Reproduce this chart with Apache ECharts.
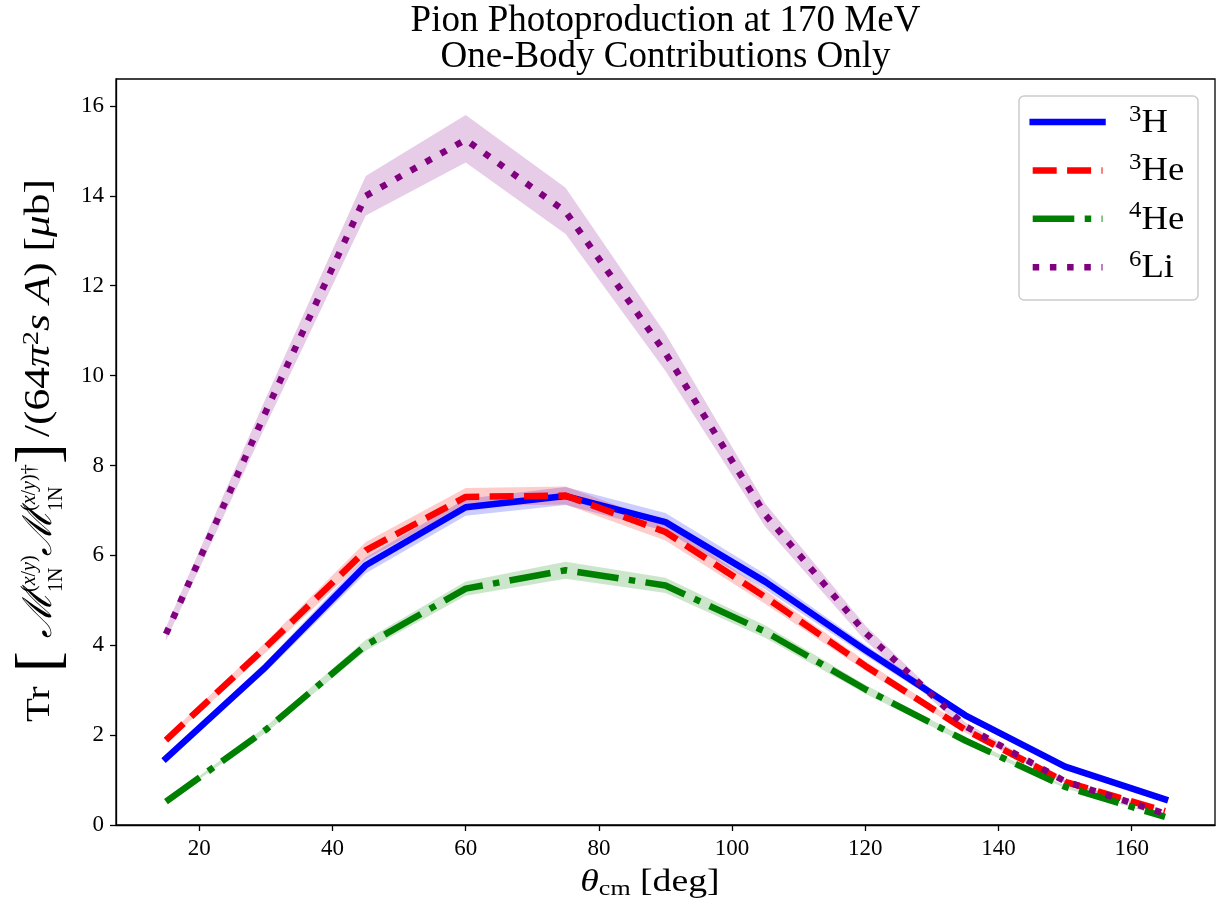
<!DOCTYPE html>
<html><head><meta charset="utf-8">
<script src="https://cdn.jsdelivr.net/npm/echarts@6/dist/echarts.min.js"></script>
<style>html,body{margin:0;padding:0;background:#fff}#c{width:1217px;height:903px}</style>
</head><body><div id="c"></div>
<script>
// ---- data ----
const angles = [15, 30, 45, 60, 75, 90, 105, 120, 135, 150, 165];
const h3    = [1.48, 3.52, 5.78, 7.07, 7.32, 6.74, 5.41, 3.89, 2.44, 1.30, 0.57];
const h3Lo  = [1.43, 3.41, 5.60, 6.88, 7.12, 6.54, 5.24, 3.77, 2.36, 1.26, 0.55];
const h3Hi  = [1.53, 3.63, 5.96, 7.26, 7.52, 6.94, 5.58, 4.01, 2.52, 1.34, 0.59];
const he3   = [1.89, 3.96, 6.11, 7.30, 7.33, 6.52, 5.07, 3.54, 2.12, 0.96, 0.31];
const he3Lo = [1.83, 3.84, 5.92, 7.10, 7.13, 6.33, 4.92, 3.43, 2.06, 0.93, 0.30];
const he3Hi = [1.95, 4.08, 6.30, 7.50, 7.53, 6.71, 5.22, 3.65, 2.18, 0.99, 0.32];
const he4   = [0.52, 2.12, 4.00, 5.26, 5.67, 5.33, 4.30, 3.02, 1.88, 0.85, 0.18];
const he4Lo = [0.50, 2.05, 3.88, 5.10, 5.48, 5.16, 4.16, 2.92, 1.82, 0.82, 0.17];
const he4Hi = [0.54, 2.19, 4.12, 5.42, 5.86, 5.50, 4.44, 3.12, 1.94, 0.88, 0.19];
const li6   = [4.25, 9.20, 14.00, 15.25, 13.65, 10.50, 6.90, 4.28, 2.20, 0.97, 0.25];
const li6Lo = [4.10, 8.90, 13.56, 14.74, 13.15, 10.10, 6.63, 4.10, 2.12, 0.94, 0.24];
const li6Hi = [4.40, 9.50, 14.44, 15.80, 14.18, 10.93, 7.15, 4.44, 2.28, 1.00, 0.26];
const xTicks = [20, 40, 60, 80, 100, 120, 140, 160];
const yTicks = [0, 2, 4, 6, 8, 10, 12, 14, 16];
const seriesNames = ['3H', '3He', '4He', '6Li'];
const massNumbers = ['3', '3', '4', '6'];
const elements = ['H', 'He', 'He', 'Li'];
// ---- end data ----

const SERIF = '"Liberation Serif", "DejaVu Serif", serif';
const LW = 6.5;
const styles = [
  { color: '#0000ff', band: 'rgba(0,0,255,0.2)', dash: null, cap: 'square' },
  { color: '#ff0000', band: 'rgba(255,0,0,0.2)', dash: [24, 10.4], cap: 'butt' },
  { color: '#008000', band: 'rgba(0,128,0,0.2)', dash: [41.6, 10.4, 6.5, 10.4], cap: 'butt' },
  { color: '#800080', band: 'rgba(128,0,128,0.2)', dash: [6.5, 10.7], cap: 'butt' }
];
const centers = [h3, he3, he4, li6];
const lows = [h3Lo, he3Lo, he4Lo, li6Lo];
const highs = [h3Hi, he3Hi, he4Hi, li6Hi];

const series = [];
seriesNames.forEach((n, k) => {
  const fill = styles[k].band;
  series.push({
    type: 'custom', name: n + ' band', silent: true, z: 1, clip: true,
    data: angles.map((a, i) => [a, lows[k][i], highs[k][i]]),
    encode: { x: 0, y: [1, 2] },
    renderItem: (params, api) => {
      if (params.dataIndex !== 0) return null;
      const cnt = params.dataInsideLength;
      const top = [], bot = [];
      for (let i = 0; i < cnt; i++) {
        top.push(api.coord([api.value(0, i), api.value(2, i)]));
        bot.push(api.coord([api.value(0, i), api.value(1, i)]));
      }
      return { type: 'polygon', shape: { points: top.concat(bot.reverse()) }, style: { fill: fill, stroke: null } };
    }
  });
});
seriesNames.forEach((n, k) => {
  series.push({
    type: 'line', name: n, symbol: 'none', showSymbol: false, z: 3 + k,
    data: angles.map((a, i) => [a, centers[k][i]]),
    itemStyle: { color: styles[k].color },
    lineStyle: { color: styles[k].color, width: LW, type: styles[k].dash || 'solid', cap: styles[k].cap, join: 'round' }
  });
});

// legend drawn as graphic
const LG = { x: 1019, y: 96, w: 179, h: 204, x0: 1032.7, x1: 1102.5, tx: 1129, row0: 122, dy: 48.4 };
const legendGraphics = [{
  type: 'rect', z: 100, shape: { x: LG.x, y: LG.y, width: LG.w, height: LG.h, r: 5 },
  style: { fill: '#ffffff', stroke: '#cccccc', lineWidth: 1.5 }
}];
seriesNames.forEach((n, k) => {
  const yy = LG.row0 + k * LG.dy;
  legendGraphics.push({
    type: 'line', z: 101, shape: { x1: LG.x0, y1: yy, x2: LG.x1, y2: yy },
    style: { stroke: styles[k].color, lineWidth: LW, lineDash: styles[k].dash, lineCap: styles[k].cap }
  });
  legendGraphics.push({
    type: 'text', z: 101, x: LG.tx, y: yy + 1, scaleX: 1.08,
    style: {
      text: '{s|' + massNumbers[k] + '}{t|' + elements[k] + '}', fill: '#000', align: 'left', verticalAlign: 'middle',
      rich: {
        s: { fontSize: 23, fontFamily: SERIF, verticalAlign: 'top', lineHeight: 20, fill: '#000' },
        t: { fontSize: 34, fontFamily: SERIF, lineHeight: 40, fill: '#000' }
      }
    }
  });
});

const txt = (x, y, text, font, extra) => Object.assign({ type: 'text', x: x, y: y,
  style: Object.assign({ text: text, font: font, fill: '#000', align: 'left', verticalAlign: 'middle' }, (extra && extra.style) || {}) },
  (extra && extra.el) || {});
const itRich = sz => ({ i: { fontStyle: 'italic', fontSize: sz, fontFamily: SERIF } });

const yLabel = { type: 'group', x: 40, y: 722, rotation: Math.PI / 2, children: [
  txt(0, 0, 'Tr', '34px ' + SERIF, { el: { scaleX: 1.15 } }),
  txt(50, 2, '[', '62px ' + SERIF),
  txt(84, 0, 'ℳ', 'italic 40px ' + SERIF),
  txt(130, -10, '({i|x}/{i|y})', '20px ' + SERIF, { style: { rich: itRich(20) } }),
  txt(130, 17, '1N', '20px ' + SERIF),
  txt(166, 0, 'ℳ', 'italic 40px ' + SERIF),
  txt(211, -10, '({i|x}/{i|y})†', '20px ' + SERIF, { style: { rich: itRich(20) } }),
  txt(211, 17, '1N', '20px ' + SERIF),
  txt(258, 2, ']', '62px ' + SERIF),
  txt(285, 0, '/(64{i|π}{s|2}{i|s} {i|A}) [{i|μ}b]', '35px ' + SERIF, { el: { scaleX: 1.24 }, style: {
    rich: { i: { fontStyle: 'italic', fontSize: 35, fontFamily: SERIF, lineHeight: 40 },
            s: { fontSize: 23, fontFamily: SERIF, verticalAlign: 'top', lineHeight: 16 } } } })
] };

const chart = echarts.init(document.getElementById('c'), null, { renderer: 'canvas' });
const option = {
  animation: false,
  backgroundColor: '#ffffff',
  grid: { left: 116, top: 79, right: 2, bottom: 78, show: true, borderColor: '#000', borderWidth: 1.3, backgroundColor: 'transparent' },
  xAxis: {
    type: 'value', min: 7.5, max: 172.5,
    splitLine: { show: false },
    axisLine: { show: true, lineStyle: { color: '#000', width: 1.3 } },
    axisTick: { show: true, inside: false, length: 6, lineStyle: { color: '#000', width: 1.3 }, customValues: xTicks },
    axisLabel: { color: '#000', fontFamily: SERIF, fontSize: 23, margin: 12, customValues: xTicks }
  },
  yAxis: {
    type: 'value', min: 0, max: 16.6,
    splitLine: { show: false },
    axisLine: { show: true, lineStyle: { color: '#000', width: 1.3 } },
    axisTick: { show: true, inside: false, length: 6, lineStyle: { color: '#000', width: 1.3 }, customValues: yTicks },
    axisLabel: { color: '#000', fontFamily: SERIF, fontSize: 23, margin: 12, customValues: yTicks }
  },
  series: series,
  graphic: [
    { type: 'text', x: 665.5, y: 21, style: { text: 'Pion Photoproduction at 170 MeV', font: '37px ' + SERIF, fill: '#000', align: 'center', verticalAlign: 'middle' } },
    { type: 'text', x: 665.5, y: 57, style: { text: 'One-Body Contributions Only', font: '37px ' + SERIF, fill: '#000', align: 'center', verticalAlign: 'middle' } },
    { type: 'text', x: 650, y: 883, scaleX: 1.18, style: {
        text: '{i|θ}{sub|cm} [deg]', fill: '#000', align: 'center', verticalAlign: 'middle',
        font: '32px ' + SERIF,
        rich: { i: { fontStyle: 'italic', fontSize: 32, fontFamily: SERIF, lineHeight: 34 },
                sub: { fontSize: 22, fontFamily: SERIF, verticalAlign: 'bottom', lineHeight: 12 } }
      } },
    yLabel
  ].concat(legendGraphics)
};
chart.setOption(option);
</script>
</body></html>
